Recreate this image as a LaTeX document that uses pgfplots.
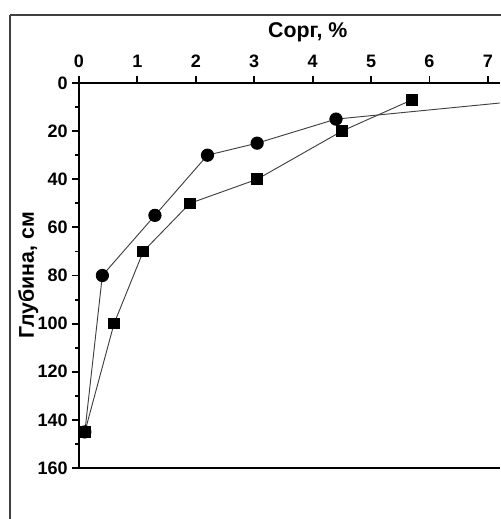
\documentclass[border=0pt]{standalone}
\usepackage{fontspec}
\setmainfont{Liberation Sans}
\usepackage{pgfplots}
\pgfplotsset{compat=1.18}

% 1 px of the reference = 0.75pt
\pgfplotstableread{
x     y
0.10  145
0.40  80
1.30  55
2.20  30
3.05  25
4.40  15
8.60  5
}\circles
\pgfplotstableread{
x     y
0.10  145
0.60  100
1.10  70
1.90  50
3.05  40
4.50  20
5.70  7
}\squares

\begin{document}
\begin{tikzpicture}
\begin{axis}[
    name=ax, at={(0,0)}, anchor=south west,
    scale only axis, width=315.4pt, height=288.75pt,
    xmin=0, xmax=7.2, ymin=0, ymax=160,
    y dir=reverse,
    axis x line*=box, axis y line*=left,
    axis line style={line width=1.6pt},
    xtick={0,1,...,7}, ytick={0,20,...,160},
    minor ytick={10,30,...,150},
    xtick pos=top, ytick pos=left,
    xticklabel pos=top,
    tick align=outside,
    major tick length=5pt, minor tick length=3pt,
    every tick/.style={black, line width=1.4pt},
    /pgf/number format/assume math mode=true,
    ticklabel style={font=\fontsize{13.5}{15}\selectfont\bfseries},
    xticklabel shift=3pt, yticklabel shift=0pt,
    xlabel={Сорг, \%}, ylabel={Глубина, см},
    label style={font=\fontsize{16}{18}\selectfont\bfseries},
    xlabel style={at={(axis description cs:0.544,1)}, anchor=center, yshift=38pt},
    ylabel style={at={(axis description cs:-0.1205,0.5)}, anchor=center},
    clip marker paths=true,
]
\addplot[black!75, line width=0.7pt, mark=square*, mark size=4pt,
    mark options={black, solid}] table[x=x, y=y] {\squares};
\addplot[black!75, line width=0.7pt, mark=*, mark size=4.6pt,
    mark options={black, solid}] table[x=x, y=y] {\circles};
\end{axis}
\draw[black!75, line width=1.2pt]
    ([xshift=-51.75pt, yshift=51pt]ax.north west) -- ([xshift=80pt, yshift=51pt]ax.north east);
\draw[black!75, line width=1.2pt]
    ([xshift=-51.75pt, yshift=51pt]ax.north west) -- ([xshift=-51.75pt, yshift=-80pt]ax.south west);
\pgfresetboundingbox
\useasboundingbox ([xshift=-59.25pt, yshift=-38.25pt]ax.south west)
    rectangle ([xshift=0.375pt, yshift=62.25pt]ax.north east);
\end{tikzpicture}
\end{document}
